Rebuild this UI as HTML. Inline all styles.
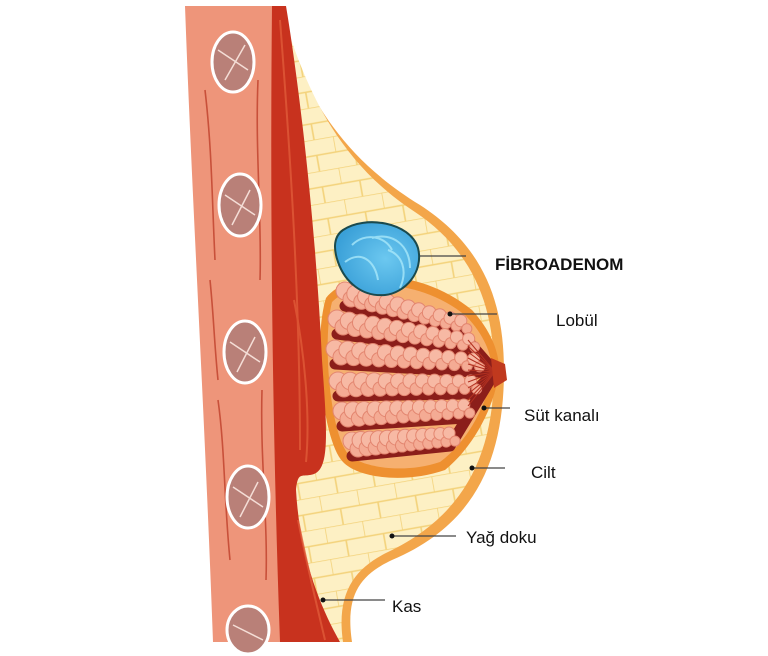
<!DOCTYPE html>
<html><head><meta charset="utf-8"><style>
html,body{margin:0;padding:0;background:#fff;width:768px;height:656px;overflow:hidden}
text{font-family:"Liberation Sans",sans-serif;font-size:17px;fill:#111}
</style></head><body>
<svg id="s" width="768" height="656" viewBox="0 0 768 656" xmlns="http://www.w3.org/2000/svg">
<defs>
<radialGradient id="bl" cx="0.6" cy="0.5" r="0.6"><stop offset="0" stop-color="#6cc8f0"/><stop offset="1" stop-color="#3aa0d8"/></radialGradient>
<pattern id="fat" width="38" height="32" patternUnits="userSpaceOnUse" patternTransform="rotate(-10)"><rect width="38" height="32" fill="#fdf0c4"/><path d="M0 0H38M0 0V16M19 16V32M0 16H38" stroke="#f3d27a" stroke-width="1.6" fill="none"/></pattern>
</defs>
<path d="M276 6 C300 80,330 150,420 205 C482 245,504 300,504 370 C504 460,475 525,392 560 C360 575,345 595,352 642 L280 642 Z" fill="#f3a64a"/>
<path d="M282 12 C305 85,335 160,415 212 C472 250,494 305,494 370 C494 452,466 515,388 552 C355 568,336 592,343 642 L282 642 Z" fill="url(#fat)"/>
<path d="M326 298 C350 268,420 268,472 310 C494 334,502 360,498 378 C492 412,472 448,445 470 C405 484,358 478,343 462 C322 440,313 340,326 298Z" fill="#ee9030"/>
<path d="M332 302 C356 278,420 278,466 316 C487 338,494 360,491 378 C485 408,467 442,440 462 C405 474,362 468,348 454 C330 432,322 340,332 302Z" fill="#f6b070"/>
<g id="gl"></g>
<path d="M491 358 L505 364 L507 380 L494 388 Z" fill="#c0391e"/>
<path d="M343 230 C365 215,410 222,418 248 C424 272,405 293,385 295 C362 297,345 282,338 262 C333 248,334 236,343 230Z" fill="url(#bl)" stroke="#1a4a4e" stroke-width="2"/>
<g stroke="#a8e8fa" stroke-width="2" fill="none" opacity=".8"><path d="M352 245 C365 232,385 236,392 250"/><path d="M345 262 C360 250,375 260,378 280"/><path d="M372 238 C392 232,410 245,410 268"/><path d="M388 250 C402 255,408 270,400 288"/></g>
<path d="M268 6 L286 6 C300 90,316 230,322 360 C327 430,330 468,314 474 C302 478,298 470,296 490 C300 560,322 610,340 642 L272 642 Z" fill="#c8321e"/>
<g stroke="#e05a38" stroke-width="2" fill="none" opacity=".8"><path d="M280 20 C290 150,300 300,300 450"/><path d="M294 300 C306 360,310 420,306 462"/><path d="M298 520 C308 570,318 610,325 640"/></g>
<path d="M185 6 L272 6 C270 200,272 420,280 642 L213 642 C205 420,192 200,185 6Z" fill="#ee957a"/>
<g stroke="#c8503a" stroke-width="1.6" fill="none"><path d="M205 90 C212 150,212 200,215 260"/><path d="M258 80 C255 150,262 220,260 280"/><path d="M218 400 C225 450,224 500,230 560"/><path d="M262 390 C260 460,268 520,266 580"/><path d="M210 280 C214 320,214 340,218 380"/></g>
<g fill="#b98078" stroke="#fff" stroke-width="3">
<ellipse cx="233" cy="62" rx="21" ry="30"/><ellipse cx="240" cy="205" rx="21" ry="31"/><ellipse cx="245" cy="352" rx="21" ry="31"/><ellipse cx="248" cy="497" rx="21" ry="31"/><ellipse cx="248" cy="630" rx="21" ry="24"/>
</g>
<g stroke="#f4ddd6" stroke-width="1.5" fill="none"><path d="M218 50 L248 70 M225 80 L245 45"/><path d="M225 195 L255 215 M232 225 L250 190"/><path d="M230 342 L260 362 M237 372 L255 337"/><path d="M233 487 L263 507 M240 517 L258 482"/><path d="M233 625 L263 640"/></g>
<g stroke="#444" stroke-width="1.2"><path d="M420 256H466"/><path d="M450 314H497"/><path d="M484 408H510"/><path d="M472 468H505"/><path d="M392 536H456"/><path d="M323 600H385"/></g>
<g fill="#111"><circle cx="450" cy="314" r="2.5"/><circle cx="484" cy="408" r="2.5"/><circle cx="472" cy="468" r="2.5"/><circle cx="392" cy="536" r="2.5"/><circle cx="323" cy="600" r="2.5"/></g>
<text x="495" y="270" style="font-weight:bold">FİBROADENOM</text>
<text x="556" y="326">Lobül</text>
<text x="524" y="421">Süt kanalı</text>
<text x="531" y="478">Cilt</text>
<text x="466" y="543">Yağ doku</text>
<text x="392" y="612">Kas</text>
</svg>
<script>
var g=document.getElementById('gl'),h='';
var rows=[[345,298,462,328],[337,326,470,346],[335,356,475,366],[338,388,472,388],[342,418,465,412],[352,448,450,440]];
var nx=495,ny=372;
rows.forEach(function(s){
 h+='<path d="M'+s[0]+' '+(s[1]+8)+' L'+s[2]+' '+(s[3]+6)+' L'+nx+' '+ny+'" stroke="#8b1e1a" stroke-width="11" stroke-linecap="round" stroke-linejoin="round" fill="none"/>';
});
rows.forEach(function(s){
 for(var t=0;t<=1.001;t+=0.09){
  var x=s[0]+(s[2]-s[0])*t,y=s[1]+(s[3]-s[1])*t-4;
  var r=9-t*3;
  h+='<circle cx="'+x+'" cy="'+(y-3)+'" r="'+r+'" fill="#f7b9a4" stroke="#e38670"/>';
  h+='<circle cx="'+(x+6)+'" cy="'+(y+5)+'" r="'+(r-1)+'" fill="#f4ab94" stroke="#e38670"/>';
 }
});
for(var k=0;k<12;k++){h+='<path d="M468 '+(340+k*6)+' L495 372" stroke="#b23020" stroke-width="1"/>';}
g.innerHTML=h;
</script>
</body></html>
